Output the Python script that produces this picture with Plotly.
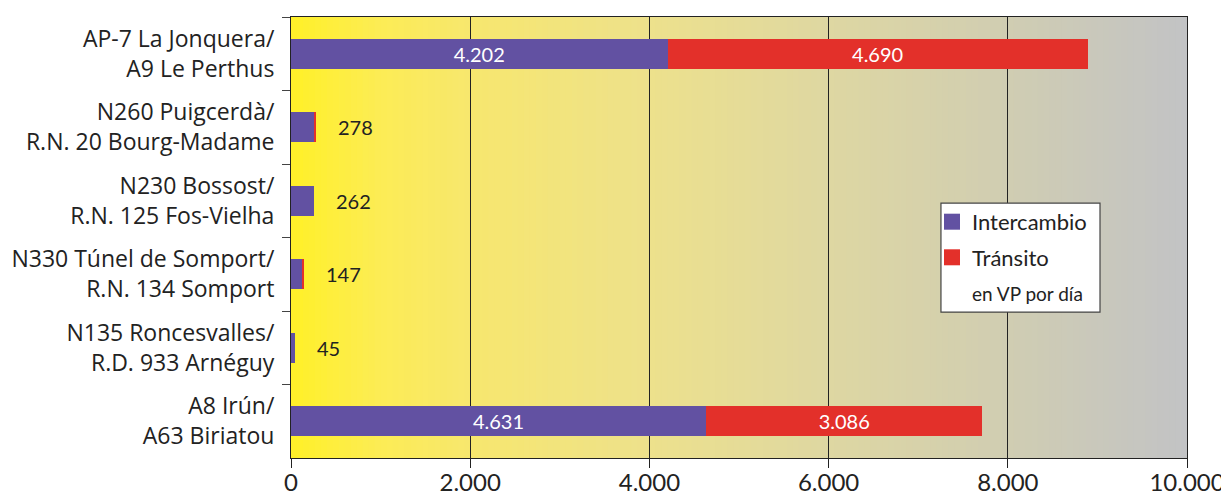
import plotly.graph_objects as go

categories = [
    "AP-7 La Jonquera/<br>A9 Le Perthus",
    "N260 Puigcerdà/<br>R.N. 20 Bourg-Madame",
    "N230 Bossost/<br>R.N. 125 Fos-Vielha",
    "N330 Túnel de Somport/<br>R.N. 134 Somport",
    "N135 Roncesvalles/<br>R.D. 933 Arnéguy",
    "A8 Irún/<br>A63 Biriatou",
]
intercambio = [4202, 265, 262, 122, 45, 4631]
transito = [4690, 13, 0, 25, 0, 3086]
x_tickvals = [0, 2000, 4000, 6000, 8000, 10000]
x_ticktext = ["0", "2.000", "4.000", "6.000", "8.000", "10.000"]
series_names = ["Intercambio", "Tránsito"]
legend_note = "en VP por día"

PURPLE = "#6251A2"
RED = "#E3302A"
FONT = "Lato"
LABEL_FONT = "Open Sans"
TXT = "#222"

def fmt(v):
    return f"{v:,}".replace(",", ".")

totals = [a + b for a, b in zip(intercambio, transito)]
big = [t > 1000 for t in totals]

fig = go.Figure()
for vals, col in ((intercambio, PURPLE), (transito, RED)):
    fig.add_trace(go.Bar(
        y=categories, x=vals, orientation="h",
        marker=dict(color=col, line=dict(width=0)),
        text=[fmt(v) if b else "" for v, b in zip(vals, big)],
        textposition="inside", insidetextanchor="middle",
        textfont=dict(color="white", size=20, family=FONT),
        showlegend=False, hoverinfo="x+y",
    ))

# legend proxies
for i, (nm, col) in enumerate(zip(series_names, [PURPLE, RED])):
    fig.add_trace(go.Scatter(
        x=[None], y=[None], mode="markers", name=nm,
        marker=dict(symbol="square", size=16, color=col),
        legendgroup=f"g{i}",
    ))
fig.add_trace(go.Scatter(
    x=[None], y=[None], mode="lines",
    name=f"<span style='font-size:19px'>{legend_note}</span>",
    line=dict(width=0, color="rgba(0,0,0,0)"), legendgroup="g2",
))

# value labels for small bars
for cat, tot, b in zip(categories, totals, big):
    if not b:
        fig.add_annotation(x=tot, y=cat, text=fmt(tot), showarrow=False,
                           xanchor="left", xshift=20,
                           font=dict(size=20, family=FONT, color=TXT))

# gradient background
stops = [(0.0, (255, 240, 40)), (0.1, (252, 236, 85)), (0.2, (247, 231, 110)),
         (0.4, (237, 225, 140)), (0.6, (222, 215, 162)), (0.8, (208, 205, 178)),
         (1.0, (194, 195, 197))]

def col_at(f):
    for (f0, c0), (f1, c1) in zip(stops[:-1], stops[1:]):
        if f0 <= f <= f1:
            t = (f - f0) / (f1 - f0)
            return "rgb(%d,%d,%d)" % tuple(round(a + (b - a) * t) for a, b in zip(c0, c1))
    return "rgb(%d,%d,%d)" % stops[-1][1]

N = 150
xmax = x_tickvals[-1]
for i in range(N):
    x0 = xmax * i / N
    x1 = xmax * (i + 1) / N
    fig.add_shape(type="rect", xref="x", yref="paper", x0=x0,
                  x1=min(x1 + xmax * 0.002, xmax), y0=0, y1=1,
                  fillcolor=col_at((i + 0.5) / N), line=dict(width=0), layer="below")

# legend box
fig.add_shape(type="rect", xref="paper", yref="paper", x0=0.7254, x1=0.9029,
              y0=0.331, y1=0.578, fillcolor="white",
              line=dict(color="#444", width=1.2), layer="above")

fig.update_layout(
    width=1221, height=489,
    margin=dict(l=283, r=42, t=9, b=39),
    paper_bgcolor="white", plot_bgcolor="rgba(0,0,0,0)",
    barmode="stack", bargap=0.59,
    font=dict(family=FONT, size=22, color=TXT),
    showlegend=True,
    legend=dict(x=0.7154, y=0.583, xanchor="left", yanchor="top",
                bgcolor="rgba(0,0,0,0)", borderwidth=0,
                font=dict(size=22, family=FONT, color=TXT),
                traceorder="grouped", tracegroupgap=4, itemwidth=30),
    xaxis=dict(range=[0, xmax], tickvals=x_tickvals, ticktext=x_ticktext,
               automargin=False,
               showgrid=True, gridcolor="#222", gridwidth=1, zeroline=False,
               showline=True, linecolor="#222", linewidth=1, mirror=True,
               ticks="outside", ticklen=9, tickcolor="#222", ticklabelstandoff=-6,
               tickfont=dict(size=24, family=FONT, color=TXT)),
    yaxis=dict(categoryorder="array", categoryarray=categories, autorange="reversed",
               automargin=False,
               showline=True, linecolor="#222", linewidth=1, mirror=True,
               ticks="outside", tickson="boundaries", ticklen=8, tickcolor="#444",
               ticklabelstandoff=11,
               showgrid=False, tickfont=dict(size=23, family=LABEL_FONT, color=TXT)),
)

fig.write_html("out.html")
